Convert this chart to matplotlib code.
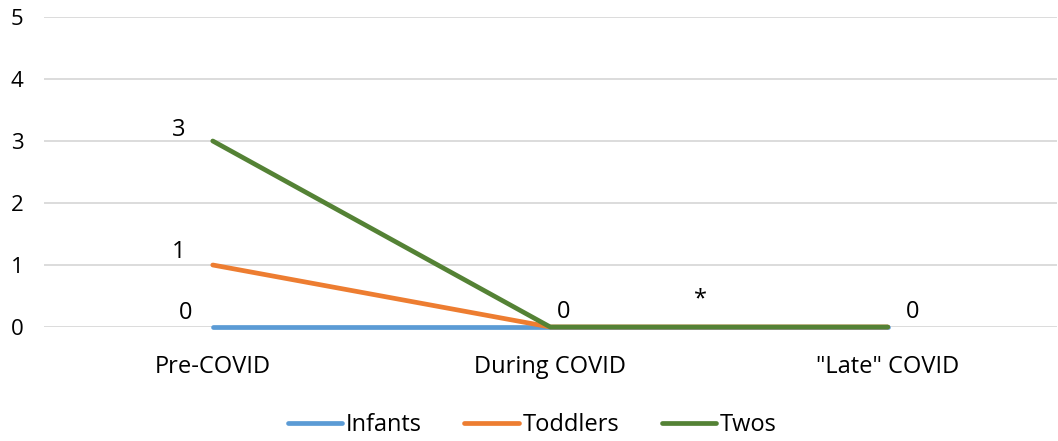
import matplotlib
matplotlib.use("agg")
from matplotlib import pyplot as plt

# data
categories = ["Pre-COVID", "During COVID", "\"Late\" COVID"]
infants = [0, 0, 0]
toddlers = [1, 0, 0]
twos = [3, 0, 0]
yticks = [0, 1, 2, 3, 4, 5]

plt.rcParams['font.family'] = ['Open Sans', 'DejaVu Sans']
fs = 17

fig = plt.figure(figsize=(10.58, 4.41), dpi=100)
ax = fig.add_axes([0.0416, 0.2585, 0.957, 0.703])

x = range(len(categories))
ax.plot(x, infants, color="#5B9BD5", lw=3.4, solid_capstyle="round", label="Infants", zorder=3, clip_on=False)
ax.plot(x, toddlers, color="#ED7D31", lw=3.4, solid_capstyle="round", label="Toddlers", zorder=3, clip_on=False)
ax.plot(x, twos, color="#548235", lw=3.4, solid_capstyle="round", label="Twos", zorder=3, clip_on=False)

# data labels (px offsets from reference converted to points)
def lab(txt, xi, yi, dx, dy):
    ax.annotate(txt, (xi, yi), xytext=(dx * 0.72, dy * 0.72), textcoords="offset points",
                ha="center", va="center", fontsize=fs, color="black")

lab(str(twos[0]), 0, twos[0], -34, 11)
lab(str(toddlers[0]), 0, toddlers[0], -34, 13)
lab(str(infants[0]), 0, infants[0], -27, 14)
lab(str(twos[1]), 1, twos[1], 13, 15)
lab(str(twos[2]), 2, twos[2], 25, 15)
ax.text(1.446, 0.44, "*", ha="center", va="center", fontsize=fs)

ax.set_xlim(-0.5, 2.5)
ax.set_ylim(0, 5)
ax.set_yticks(yticks)
ax.set_xticks(list(x))
ax.set_xticklabels(categories, fontsize=fs)
ax.tick_params(axis="y", labelsize=fs - 1, length=0, pad=24)
ax.tick_params(axis="x", length=0, pad=20)
for lbl in ax.get_yticklabels():
    lbl.set_horizontalalignment("left")
ax.grid(axis="y", color="#D9D9D9", lw=1.3)
ax.set_axisbelow(True)
for s in ax.spines.values():
    s.set_visible(False)

leg = fig.legend(loc="lower center", bbox_to_anchor=(0.503, -0.04), ncol=3, frameon=False,
                 fontsize=fs, handlelength=2.3, handletextpad=0.15, columnspacing=1.8)

plt.savefig("out.png")
